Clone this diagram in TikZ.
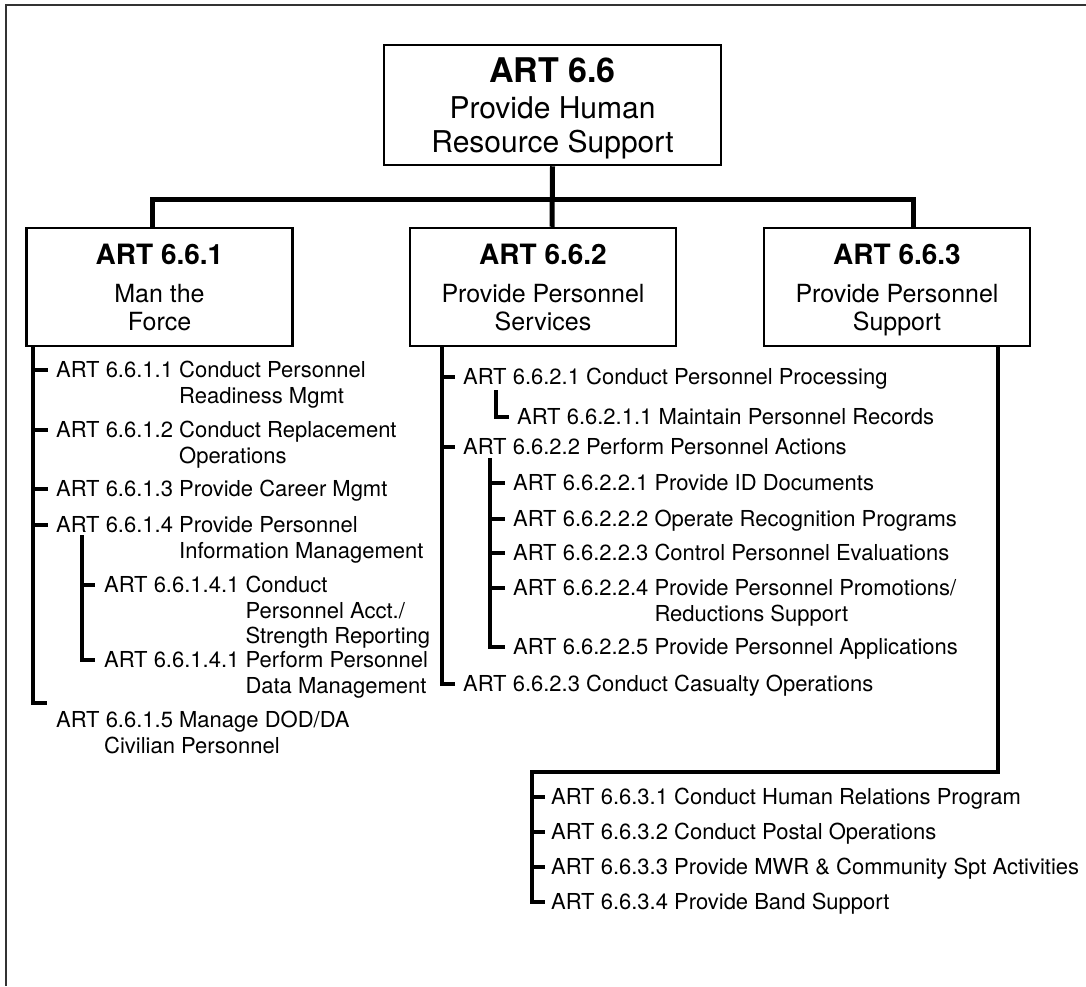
\documentclass[tikz,border=0pt]{standalone}
\usepackage{fontspec}
\setmainfont{TeX Gyre Heros}
\tikzset{
  artframe/.style={line width=2pt,draw=black!80},
  artbox/.style={
    draw,
    line width=2.5pt,
    minimum width=266pt,
    minimum height=118pt,
    inner sep=0pt,
    align=center,
    text depth=0pt,
    font=\fontsize{25}{28}\selectfont
  },
  arttop/.style={
    artbox,
    minimum width=337pt,
    minimum height=120pt,
    font=\fontsize{30}{34}\selectfont
  },
  artitem/.style={
    anchor=west,
    inner sep=0pt,
    text height=15.5pt,
    text depth=0pt,
    font=\fontsize{22}{25.5}\selectfont
  },
  artlink/.style={line width=5pt},
  arttree/.style={line width=4pt}
}

\begin{document}
\begin{tikzpicture}[x=1pt,y=-1pt]
    \useasboundingbox (0,0) rectangle (1086,986);
    \draw[artframe] (1086,5) -- (6,5) -- (6,986);
    % top level
    \node[arttop] (hrs) at (552.5,105) {
      {\bfseries\fontsize{34}{34}\selectfont ART 6.6}\\[2pt]
      Provide Human\\ Resource Support
    };
    \node[artbox] (force) at (159.5,287) {
      {\bfseries\fontsize{28}{28}\selectfont ART 6.6.1}\\[10pt]
      Man the\\ Force
    };
    \node[artbox] (services) at (543,287) {
      {\bfseries\fontsize{28}{28}\selectfont ART 6.6.2}\\[10pt]
      Provide Personnel\\ Services
    };
    \node[artbox] (support) at (897,287) {
      {\bfseries\fontsize{28}{28}\selectfont ART 6.6.3}\\[10pt]
      Provide Personnel\\ Support
    };
    \coordinate (bar) at (552,199);
    \draw[artlink] (hrs.south) -- ([xshift=9pt]services.north);
    \draw[artlink] ([xshift=-7.5pt]force.north) |- (bar) -| ([xshift=16pt]support.north);
    % ART 6.6.1
    \node[artitem] (i611) at (56,370) {\begin{tabular}[t]{@{}l@{\ }l@{}}ART 6.6.1.1&Conduct Personnel\\&Readiness Mgmt\end{tabular}};
    \node[artitem] (i612) at (56,430) {\begin{tabular}[t]{@{}l@{\ }l@{}}ART 6.6.1.2&Conduct Replacement\\&Operations\end{tabular}};
    \node[artitem] (i613) at (56,489) {ART 6.6.1.3 Provide Career Mgmt};
    \node[artitem] (i614) at (56,525) {\begin{tabular}[t]{@{}l@{\ }l@{}}ART 6.6.1.4&Provide Personnel\\&Information Management\end{tabular}};
    \node[artitem] (i6141) at (104,585) {\begin{tabular}[t]{@{}l@{\ }l@{}}ART 6.6.1.4.1&Conduct\\&Personnel Acct./\\&Strength Reporting\end{tabular}};
    \node[artitem] (i6142) at (104,660) {\begin{tabular}[t]{@{}l@{\ }l@{}}ART 6.6.1.4.1&Perform Personnel\\&Data Management\end{tabular}};
    \node[artitem] (i615) at (56,720) {\begin{tabular}[t]{@{}l@{}}ART 6.6.1.5 Manage DOD/DA\\\hspace*{48pt}Civilian Personnel\end{tabular}};
    \coordinate (t1) at ([xshift=8pt]force.south west);
    \coordinate (t1end) at (47,703);
    \coordinate (s1) at (82,535);
    \draw[arttree] (t1) |- (t1end);
    \foreach \n in {611,612,613,614}
      \draw[arttree] (t1 |- i\n.west) -- ([xshift=-8pt]i\n.west);
    \draw[arttree] (s1) |- ([xshift=-9pt]i6142.west);
    \draw[arttree] (s1 |- i6141.west) -- ([xshift=-9pt]i6141.west);
    % ART 6.6.2
    \node[artitem] (i621) at (463,377) {ART 6.6.2.1 Conduct Personnel Processing};
    \node[artitem] (i6211) at (517,417) {ART 6.6.2.1.1 Maintain Personnel Records};
    \node[artitem] (i622) at (463,447) {ART 6.6.2.2 Perform Personnel Actions};
    \node[artitem] (i6221) at (513,483) {ART 6.6.2.2.1 Provide ID Documents};
    \node[artitem] (i6222) at (513,519) {ART 6.6.2.2.2 Operate Recognition Programs};
    \node[artitem] (i6223) at (513,553) {ART 6.6.2.2.3 Control Personnel Evaluations};
    \node[artitem] (i6224) at (513,588) {\begin{tabular}[t]{@{}l@{\ }l@{}}ART 6.6.2.2.4&Provide Personnel Promotions/\\&Reductions Support\end{tabular}};
    \node[artitem] (i6225) at (513,647) {ART 6.6.2.2.5 Provide Personnel Applications};
    \node[artitem] (i623) at (463,684) {ART 6.6.2.3 Conduct Casualty Operations};
    \coordinate (t2) at ([xshift=33pt]services.south west);
    \coordinate (s21) at (496,390);
    \coordinate (s22) at (490,458);
    \draw[arttree] (t2) |- ([xshift=-8pt]i623.west);
    \draw[arttree] (t2 |- i621.west) -- ([xshift=-8pt]i621.west);
    \draw[arttree] (t2 |- i622.west) -- ([xshift=-8pt]i622.west);
    \draw[arttree] (s21) |- ([xshift=-8pt]i6211.west);
    \draw[arttree] (s22) |- ([xshift=-8pt]i6225.west);
    \foreach \n in {6221,6222,6223,6224}
      \draw[arttree] (s22 |- i\n.west) -- ([xshift=-8pt]i\n.west);
    % ART 6.6.3
    \node[artitem] (i631) at (551,797) {ART 6.6.3.1 Conduct Human Relations Program};
    \node[artitem] (i632) at (551,832) {ART 6.6.3.2 Conduct Postal Operations};
    \node[artitem] (i633) at (551,867) {ART 6.6.3.3 Provide MWR \& Community Spt Activities};
    \node[artitem] (i634) at (551,902) {ART 6.6.3.4 Provide Band Support};
    \coordinate (t3) at ([xshift=-33pt]support.south east);
    \coordinate (t3bend) at (532,772);
    \draw[arttree] (t3) |- (t3bend) |- ([xshift=-6pt]i634.west);
    \foreach \n in {631,632,633}
      \draw[arttree] (t3bend |- i\n.west) -- ([xshift=-6pt]i\n.west);
  \end{tikzpicture}
\end{document}
